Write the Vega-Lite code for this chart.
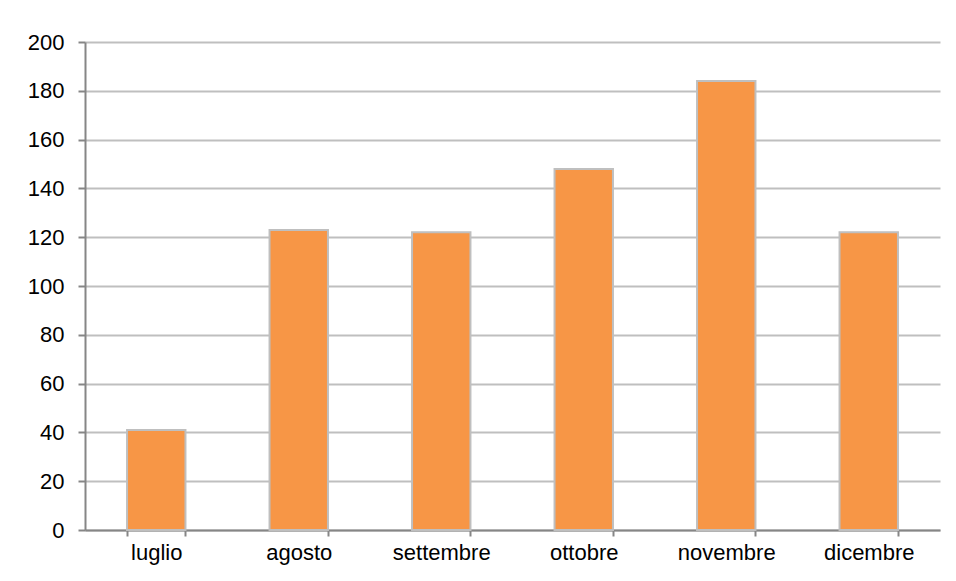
{
  "$schema": "https://vega.github.io/schema/vega-lite/v6.json",
  "autosize": "none",
  "padding": {"left": 85, "top": 42, "right": 16, "bottom": 51},
  "width": 855,
  "height": 488,
  "background": "white",
  "data": {"values": [
    {"mese": "luglio", "valore": 41},
    {"mese": "agosto", "valore": 123},
    {"mese": "settembre", "valore": 122},
    {"mese": "ottobre", "valore": 148},
    {"mese": "novembre", "valore": 184},
    {"mese": "dicembre", "valore": 122}
  ]},
  "mark": {"type": "bar", "color": "#F79646", "stroke": "#BFBFBF", "strokeWidth": 2},
  "encoding": {
    "x": {
      "field": "mese", "type": "nominal", "sort": null,
      "scale": {"paddingInner": 0.59, "paddingOuter": 0.295},
      "axis": {"title": null, "labelAngle": 0, "tickBand": "extent", "tickSize": 6, "tickWidth": 2, "tickColor": "#868686",
               "domainColor": "#868686", "domainWidth": 2, "labelFont": "Liberation Sans", "labelFontSize": 22,
               "labelColor": "#000000", "labelPadding": 6}
    },
    "y": {
      "field": "valore", "type": "quantitative",
      "scale": {"domain": [0, 200], "nice": false},
      "axis": {"title": null, "values": [0,20,40,60,80,100,120,140,160,180,200], "tickSize": 7, "tickWidth": 2, "tickColor": "#868686",
               "domainColor": "#868686", "domainWidth": 2, "gridColor": "#BFBFBF", "gridWidth": 2,
               "labelFont": "Liberation Sans", "labelFontSize": 22, "labelColor": "#000000", "labelPadding": 14}
    }
  },
  "config": {"view": {"stroke": null}}
}
